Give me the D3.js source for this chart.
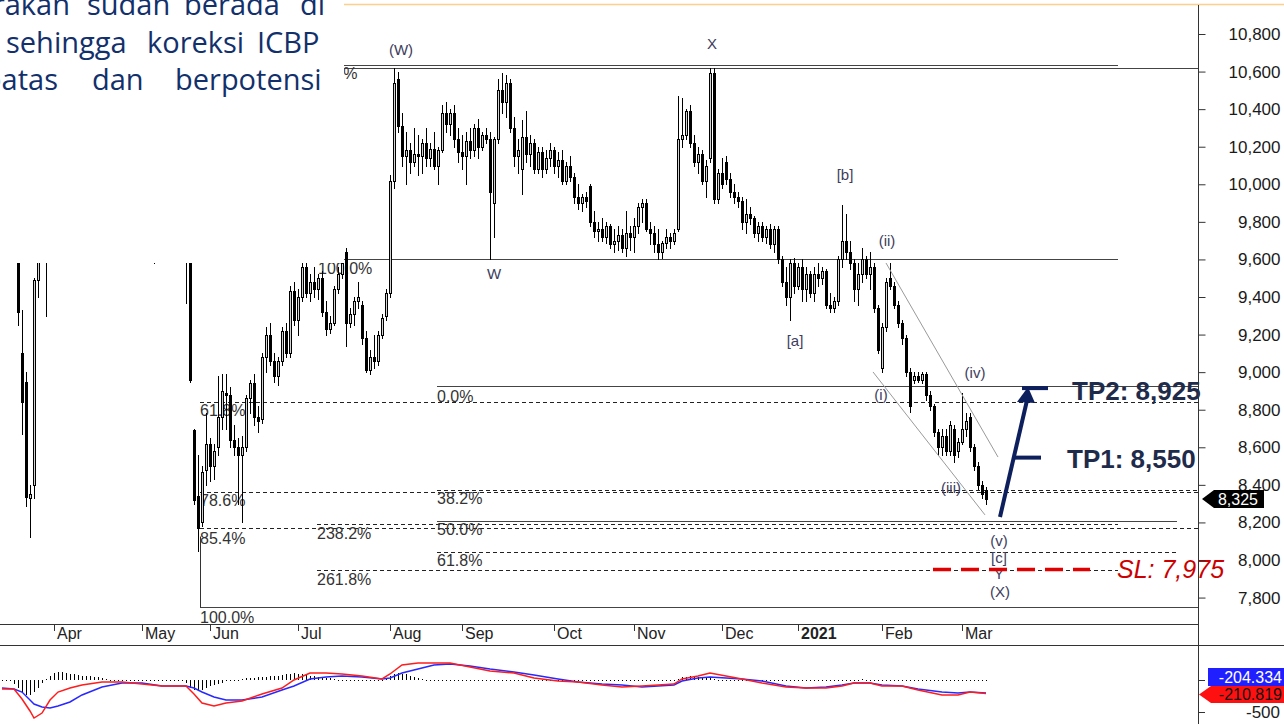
<!DOCTYPE html>
<html>
<head>
<meta charset="utf-8">
<script src="https://cdn.jsdelivr.net/npm/d3@7"></script>
<style>
  body { margin: 0; background: #fff; overflow: hidden; }
  svg { display: block; }
</style>
</head>
<body>
<div id="chart"></div>
<script>
// ---------- data ----------
const opens = [
  10000,9800,9720,9850,9900,9100,8950,8330,8400,9490,
  9800,10000,9900,10200,10350,10200,10050,10150,10000,9800,
  9850,10050,10100,10250,10150,10000,10100,10250,10300,10150,
  10200,10100,9950,10050,10000,9850,9950,9850,9750,9800,
  9950,10050,10100,9950,10000,9850,9650,9720,8690,8340,
  8200,8480,8620,8500,8600,8760,8890,8880,8640,8600,
  8560,8600,8860,8940,8760,8750,9080,9200,9060,8980,
  9060,9220,9100,9430,9280,9400,9560,9420,9480,9440,
  9500,9320,9230,9260,9440,9520,9640,9260,9310,9380,
  9360,9180,9010,9080,9060,9200,9300,9420,10020,10560,
  10310,10150,10180,10120,10160,10150,10220,10140,10190,10100,
  10180,10380,10320,10380,10240,10170,10150,10230,10180,10300,
  10200,10260,10240,9900,10240,10500,10440,10540,10300,10150,
  10080,10250,10160,10220,10080,10170,10080,10140,10180,10100,
  10130,10020,10100,10040,9930,9900,9930,9990,9800,9750,
  9760,9720,9780,9680,9700,9730,9660,9740,9720,9780,
  9880,9900,9760,9740,9680,9640,9690,9720,9700,9760,
  10240,10260,10390,10220,10120,10160,10020,10140,10590,9920,
  10060,10120,10030,9960,9930,9910,9800,9840,9820,9740,
  9780,9720,9760,9680,9760,9600,9480,9400,9580,9460,
  9560,9440,9520,9420,9520,9500,9540,9360,9340,9380,
  9600,9700,9640,9580,9440,9520,9600,9520,9560,9340,
  9020,9240,9500,9460,9360,9260,9180,9000,8960,8980,
  8960,8990,8880,8820,8680,8600,8660,8580,8700,8580,
  8630,8700,8760,8600,8500,8400,8370
];
const highs = [
  10200,9950,9900,10000,10000,9330,9000,8400,9500,9850,
  10100,10150,10250,10400,10450,10300,10200,10250,10050,9900,
  10100,10200,10300,10350,10200,10150,10300,10400,10350,10250,
  10300,10150,10100,10150,10050,10000,10050,9900,9850,10000,
  10100,10200,10150,10050,10100,9950,9900,9780,8700,8560,
  8500,8780,8650,8620,8980,8990,8990,8920,8720,8650,
  8660,8880,8960,8990,8820,9100,9240,9260,9100,9080,
  9240,9260,9460,9480,9440,9600,9580,9520,9560,9520,
  9540,9380,9300,9460,9560,9620,9660,9340,9400,9480,
  9380,9220,9120,9200,9220,9310,9440,10050,10620,10600,
  10380,10280,10220,10300,10260,10240,10300,10220,10280,10200,
  10420,10440,10400,10420,10300,10260,10280,10300,10320,10350,
  10280,10300,10280,10250,10560,10590,10580,10560,10360,10240,
  10340,10390,10260,10240,10200,10200,10180,10220,10200,10170,
  10180,10120,10150,10060,10000,9950,9960,10000,9860,9800,
  9820,9800,9790,9760,9780,9760,9860,9780,9820,9900,
  9920,9920,9800,9780,9760,9700,9760,9740,9760,10470,
  10460,10400,10420,10260,10200,10180,10130,10620,10620,10080,
  10140,10150,10060,10000,9960,9930,9920,9880,9830,9800,
  9800,9780,9790,9780,9780,9620,9560,9600,9610,9580,
  9600,9560,9540,9560,9580,9560,9550,9420,9400,9620,
  9890,9840,9700,9600,9580,9660,9620,9640,9580,9360,
  9260,9500,9580,9480,9380,9280,9200,9020,9000,9000,
  9000,9000,8900,8830,8700,8700,8700,8740,8720,8650,
  8890,8780,8780,8620,8520,8420,8390
];
const lows = [
  9700,9680,9660,9700,9250,8670,8290,8120,8330,9400,
  9700,9300,9850,10100,10150,10000,9900,9950,9750,9610,
  9800,9950,10050,10100,9950,9900,10050,10150,10100,10000,
  10050,9900,9850,9950,9800,9750,9800,9700,9580,9750,
  9850,9950,9900,9850,9800,9680,9370,8950,8300,8050,
  8180,8400,8420,8430,8560,8700,8700,8600,8560,8300,
  8200,8580,8780,8720,8680,8730,9000,9040,8950,8930,
  9040,9080,9080,9250,9200,9380,9400,9380,9400,9390,
  9300,9200,9210,9250,9420,9500,9140,9240,9250,9340,
  9150,9000,8990,9020,9040,9180,9280,9400,9980,10280,
  10100,10000,10060,10100,10050,10060,10100,10100,10080,10000,
  10170,10280,10260,10200,10120,10080,10000,10140,10150,10140,
  10180,10220,9600,9720,10220,10380,10360,10280,10100,10060,
  9950,10120,10100,10060,10060,10040,10060,10100,10060,10040,
  10000,10000,10020,9900,9870,9860,9880,9780,9720,9700,
  9700,9690,9660,9640,9650,9640,9620,9650,9640,9740,
  9800,9750,9680,9640,9600,9610,9660,9660,9680,9750,
  10200,10240,10200,10100,10060,10000,9930,10120,9900,9900,
  9980,10000,9930,9900,9880,9760,9740,9790,9720,9700,
  9700,9690,9660,9640,9580,9460,9360,9280,9420,9440,
  9380,9380,9400,9380,9460,9470,9340,9320,9320,9360,
  9560,9600,9550,9380,9360,9480,9500,9440,9320,9100,
  9000,9220,9440,9340,9240,9150,8980,8790,8940,8950,
  8940,8850,8800,8660,8560,8560,8560,8560,8520,8550,
  8620,8660,8580,8480,8380,8330,8300
];
const closes = [
  9800,9720,9850,9900,9320,8840,8335,8350,9490,9800,
  10000,9900,10200,10350,10200,10050,10150,10000,9800,9850,
  10050,10100,10250,10150,10000,10100,10250,10300,10150,10200,
  10100,9950,10050,10000,9850,9950,9850,9750,9800,9950,
  10050,10100,9950,10000,9850,9700,9750,8960,8320,8170,
  8470,8620,8500,8580,8760,8900,8880,8640,8600,8560,
  8600,8860,8940,8760,8740,9080,9200,9060,8980,9060,
  9220,9100,9430,9280,9400,9560,9420,9480,9440,9500,
  9320,9230,9260,9440,9520,9580,9260,9310,9380,9400,
  9180,9010,9080,9060,9200,9290,9420,10020,10540,10310,
  10150,10180,10120,10160,10150,10220,10140,10190,10100,10180,
  10380,10320,10380,10240,10170,10150,10230,10180,10300,10200,
  10260,10240,9960,10240,10500,10440,10540,10300,10150,10180,
  10250,10160,10220,10080,10170,10080,10140,10180,10100,10130,
  10020,10100,10040,9930,9900,9930,9910,9800,9750,9760,
  9720,9780,9680,9700,9730,9660,9740,9720,9780,9880,
  9900,9760,9740,9680,9640,9690,9720,9700,9740,10240,
  10260,10390,10220,10120,10160,10020,10100,10590,9920,10060,
  10000,10030,9960,9930,9910,9800,9840,9820,9740,9780,
  9720,9760,9680,9760,9600,9480,9400,9580,9460,9560,
  9440,9520,9420,9520,9500,9540,9360,9340,9380,9600,
  9700,9640,9580,9440,9520,9600,9520,9560,9340,9120,
  9240,9480,9460,9360,9260,9180,9000,8820,8980,8960,
  8990,8880,8820,8680,8600,8660,8580,8720,8560,8630,
  8700,8740,8600,8500,8400,8350,8325
];

const monthLabels = ["Apr","May","Jun","Jul","Aug","Sep","Oct","Nov","Dec","2021","Feb","Mar"];
const monthIdx    = [13, 35, 52, 74, 97, 115, 138, 158, 180, 199, 220, 240];

const priceTicks = [7800,8000,8200,8400,8600,8800,9000,9200,9400,9600,9800,10000,10200,10400,10600,10800];

// horizontal levels: price, from/to (candle index), dashed
const levelPrice  = [10635, 10620, 9600, 8925, 8843, 8375, 8362, 8210, 8192, 8168, 8044, 7947, 7750];
const levelFrom   = [79, 79, 0, 108.75, 49.5, 108.75, 49.5, 108.75, 78.75, 49.5, 108.75, 78.75, 49.5];
const levelTo     = [279, 299, 279, 299, 299, 299, 299, 293.75, 279, 299, 293.75, 279, 299];
const levelDashed = [0, 0, 0, 0, 1, 1, 1, 0, 1, 1, 1, 1, 0];

const fibText  = ["0.0%","100.0%","61.8%","78.6%","85.4%","238.2%","261.8%","100.0%","0.0%","38.2%","50.0%","61.8%"];
const fibIdx   = [79.75, 79, 49.5, 49.5, 49.5, 78.75, 78.75, 49.5, 108.75, 108.75, 108.75, 108.75];
const fibPrice = [10592, 9554, 8798, 8319, 8117, 8144, 7899, 7697, 8873, 8330, 8165, 8000];

const waveText  = ["(W)","X","W","[b]","[a]","(ii)","(iv)","(i)","(iii)","(v)","[c]","Y","(X)"];
const waveIdx   = [99.75, 177.5, 123, 210.75, 198.25, 221.25, 243.25, 219.75, 237.25, 249.25, 249.25, 249.25, 249.5];
const wavePrice = [10715, 10747, 9522, 10049, 9166, 9698, 8995, 8878, 8383, 8101, 8011, 7925, 7830];

// falling channel (index, price)
const channelUpper = [[221, 9581], [249, 8548]];
const channelLower = [[217.75, 9001], [245.75, 8240]];

// MACD panel, sampled along the lines
const macdIdx  = [0,3,5,7,8,10,12,14,17,20,25,30,35,40,46,48,50,53,56,60,65,70,73,77,81,85,90,95,97,100,104,108,112,117,122,128,133,139,144,150,155,160,168,170,174,177,181,185,190,196,201,206,210,213,217,220,225,229,235,239,242,246];
const macdRed  = [-141,-141,-297,-484,-594,-516,-313,-188,-125,-78,-31,-31,-63,-94,-94,-219,-359,-406,-359,-328,-219,-125,0,109,109,94,63,16,94,234,266,266,266,203,141,109,31,-16,-31,-78,-109,-94,-63,16,63,109,63,16,-47,-109,-125,-125,-94,-47,-47,-94,-94,-156,-234,-234,-188,-211];
const macdBlue = [-125,-141,-188,-313,-375,-422,-438,-406,-344,-234,-109,-47,-47,-94,-94,-125,-188,-266,-313,-313,-266,-156,-94,16,47,63,47,16,31,109,172,234,250,219,172,125,78,16,-31,-63,-78,-109,-78,-16,31,47,31,16,-16,-94,-125,-109,-78,-47,-47,-78,-94,-141,-188,-203,-188,-204];
const histVals = [
  0,0,0,-60,-120,-200,-240,-230,-180,-120,
  -40,20,60,110,130,120,110,100,90,80,70,60,55,45,40,30,20,
  10,5,5,0,-5,-5,0,5,5,0,0,-5,0,5,5,0,0,-5,-10,
  -40,-120,-160,-170,-150,-120,-100,-80,-60,-40,-20,
  5,10,15,20,25,30,35,40,45,50,55,60,70,80,90,100,
  110,100,90,80,70,60,50,40,30,25,20,15,10,5,5,0,-5,-10,-15,-20,-15,-10,-5,
  20,60,100,110,100,90,70,50,30,
  20,10,5,0,-5,-5,-10,-10,-5,0,5,5,0,-5,-10,-10,-5,0,5,10,
  5,0,-5,-10,-10,-5,-5,0,0,-5,-10,-10,-10,-5,-5,0,0,-5,-5,-10,
  -10,-5,0,5,5,0,-5,-5,-10,-5,0,0,5,5,0,-5,-5,0,0,5,
  5,0,5,10,
  20,40,50,60,55,50,45,40,30,20,10,5,
  0,-5,-10,-10,-15,-10,-10,-5,-5,-10,-10,-15,-10,-5,0,0,-5,-5,0,5,
  5,10,10,5,5,0,0,-5,-5,-5,0,5,10,15,20,15,10,5,0,-5,
  -5,-10,-15,-20,-20,-15,-10,-10,-5,-5,-10,-15,-15,-10,-5,0,0,5,5,10,
  10,5,0,-5,-5,-5
];

const lastPrice = 8325;
const tp1 = 8545, tp2 = 8915, slPrice = 7950;
const arrowFrom = [249.5, 8229], arrowTo = [256.5, 8905];

// ---------- setup ----------
const W = 1284, H = 724;
const axisX = 1198;
const svg = d3.select("#chart").append("svg")
    .attr("width", W)
    .attr("height", H)
    .style("font-family", "'Liberation Sans', Arial, sans-serif");

const N = closes.length;
const x = d3.scaleLinear().domain([0, N - 1]).range([2, 986]);
const y = d3.scaleLinear().domain([8000, 10800]).range([560, 34]);
const ym = d3.scaleLinear().domain([-500, 0]).range([712, 680]);
const cy = p => Math.round(y(p)) + 0.5;

// top orange border
svg.append("line")
    .attr("x1", 0).attr("x2", W).attr("y1", 4.5).attr("y2", 4.5)
    .attr("stroke", "#fcd08a").attr("stroke-width", 1.5);

// levels
svg.append("g").selectAll("line")
    .data(levelPrice)
    .join("line")
    .attr("x1", (d, i) => x(levelFrom[i]))
    .attr("x2", (d, i) => x(levelTo[i]))
    .attr("y1", d => cy(d))
    .attr("y2", d => cy(d))
    .attr("stroke", (d, i) => levelDashed[i] ? "#222" : "#444")
    .attr("stroke-width", 1)
    .attr("stroke-dasharray", (d, i) => levelDashed[i] ? "4,3" : null);

// vertical edge of the left fib box
svg.append("line")
    .attr("x1", Math.round(x(49.5)) + 0.5).attr("x2", Math.round(x(49.5)) + 0.5)
    .attr("y1", cy(8130)).attr("y2", cy(7750))
    .attr("stroke", "#333");

// fib labels (drawn under candles)
svg.append("g").selectAll("text")
    .data(fibText)
    .join("text")
    .attr("x", (d, i) => x(fibIdx[i]))
    .attr("y", (d, i) => y(fibPrice[i]))
    .attr("dy", "0.35em")
    .attr("font-size", 16)
    .attr("fill", "#333")
    .text(d => d);

// candles
const idx = d3.range(N);
const cg = svg.append("g").attr("shape-rendering", "crispEdges");
cg.selectAll("line")
    .data(idx)
    .join("line")
    .attr("x1", i => Math.round(x(i)) + 0.5)
    .attr("x2", i => Math.round(x(i)) + 0.5)
    .attr("y1", i => Math.round(y(highs[i])))
    .attr("y2", i => Math.round(y(lows[i])) + 1)
    .attr("stroke", "#000");

cg.selectAll("rect")
    .data(idx)
    .join("rect")
    .each(function(i) {
        const o = opens[i], c = closes[i];
        const xc = Math.round(x(i));
        const top = Math.round(y(Math.max(o, c)));
        const bot = Math.round(y(Math.min(o, c)));
        const r = d3.select(this);
        if (c >= o) {
            r.attr("x", xc - 0.5).attr("y", top + 0.5)
             .attr("width", 2).attr("height", Math.max(bot - top, 1))
             .attr("fill", "#d4d4d4").attr("stroke", "#000");
        } else {
            r.attr("x", xc - 1).attr("y", top)
             .attr("width", 3).attr("height", Math.max(bot - top, 1) + 1)
             .attr("fill", "#000");
        }
    });

// channel
[channelUpper, channelLower].forEach(seg => {
    svg.append("line")
        .attr("x1", x(seg[0][0])).attr("y1", y(seg[0][1]))
        .attr("x2", x(seg[1][0])).attr("y2", y(seg[1][1]))
        .attr("stroke", "#9a9a9a").attr("stroke-width", 1);
});

// wave labels
svg.append("g").selectAll("text")
    .data(waveText)
    .join("text")
    .attr("x", (d, i) => x(waveIdx[i]))
    .attr("y", (d, i) => y(wavePrice[i]))
    .attr("dy", "0.35em")
    .attr("text-anchor", "middle")
    .attr("font-size", 15)
    .attr("fill", "#3d3d5c")
    .text(d => d);

// ---------- text box over the chart ----------
svg.append("rect")
    .attr("x", 0).attr("y", 0).attr("width", 344).attr("height", 263)
    .attr("fill", "#fff");

const boxFont = "'Open Sans', 'Noto Sans', sans-serif";
const lines = [
    {y: 15, words: [["pergerakan", 70, "end"], ["sudah", 87], ["berada", 184], ["di", 300]]},
    {y: 53, words: [["sehingga", 6], ["koreksi", 147], ["ICBP", 257]]},
    {y: 90, words: [["terbatas", 58, "end"], ["dan", 92], ["berpotensi", 175]]}
];
lines.forEach(l => {
    l.words.forEach(w => {
        svg.append("text")
            .attr("x", w[1]).attr("y", l.y)
            .attr("text-anchor", w[2] || "start")
            .attr("font-family", boxFont)
            .attr("font-size", 29)
            .attr("fill", "#12306b")
            .text(w[0]);
    });
});

// ---------- annotations ----------
const navy = "#0d1f5c";
svg.append("line")
    .attr("x1", x(arrowFrom[0])).attr("y1", y(arrowFrom[1]))
    .attr("x2", x(arrowTo[0])).attr("y2", y(arrowTo[1]) + 6)
    .attr("stroke", navy).attr("stroke-width", 4);
{
    const tx = x(arrowTo[0]), ty = y(arrowTo[1]) - 3;
    svg.append("path")
        .attr("d", `M${tx},${ty} L${tx - 11},${ty + 15} L${tx + 7},${ty + 16} Z`)
        .attr("fill", navy);
}
svg.append("line")
    .attr("x1", x(255)).attr("x2", x(261.5))
    .attr("y1", y(tp2)).attr("y2", y(tp2))
    .attr("stroke", navy).attr("stroke-width", 4);
svg.append("line")
    .attr("x1", x(253.25)).attr("x2", x(259.75))
    .attr("y1", y(tp1)).attr("y2", y(tp1))
    .attr("stroke", navy).attr("stroke-width", 4);

svg.append("text")
    .attr("x", 1072).attr("y", 400)
    .attr("font-size", 26).attr("font-weight", "bold")
    .attr("fill", "#1e2b4a")
    .text("TP2: 8,925");
svg.append("text")
    .attr("x", 1067).attr("y", 468)
    .attr("font-size", 26).attr("font-weight", "bold")
    .attr("fill", "#1e2b4a")
    .text("TP1: 8,550");

svg.append("line")
    .attr("x1", x(232.75)).attr("x2", x(272))
    .attr("y1", y(slPrice)).attr("y2", y(slPrice))
    .attr("stroke", "#e00000").attr("stroke-width", 3.5)
    .attr("stroke-dasharray", "18,10");
svg.append("text")
    .attr("x", 1117).attr("y", 578)
    .attr("font-size", 25).attr("font-style", "italic")
    .attr("fill", "#cc0000")
    .text("SL: 7,975");

// ---------- price axis ----------
const yAxis = d3.axisRight(y)
    .tickValues(priceTicks)
    .tickSize(7)
    .tickFormat(d3.format(","));
const ag = svg.append("g")
    .attr("transform", `translate(${axisX + 0.5},0)`)
    .call(yAxis);
ag.select(".domain").remove();
ag.selectAll(".tick line").attr("stroke", "#333");
ag.selectAll(".tick text")
    .attr("x", 82)
    .attr("text-anchor", "end")
    .attr("font-size", 17)
    .attr("font-family", "'Liberation Sans', Arial, sans-serif")
    .attr("fill", "#1a1a1a");
svg.append("line")
    .attr("x1", axisX + 0.5).attr("x2", axisX + 0.5).attr("y1", 5).attr("y2", H)
    .attr("stroke", "#333");

// last price marker
{
    const py = y(lastPrice);
    svg.append("path")
        .attr("d", `M1202,${py} L1214,${py - 9} L1264,${py - 9} L1264,${py + 9} L1214,${py + 9} Z`)
        .attr("fill", "#000");
    svg.append("text")
        .attr("x", 1238).attr("y", py).attr("dy", "0.35em")
        .attr("text-anchor", "middle")
        .attr("font-size", 16).attr("fill", "#fff")
        .text(d3.format(",")(lastPrice));
}

// ---------- date axis ----------
svg.append("line").attr("x1", 0).attr("x2", axisX).attr("y1", 624.5).attr("y2", 624.5).attr("stroke", "#333");
svg.append("line").attr("x1", 0).attr("x2", W).attr("y1", 645.5).attr("y2", 645.5).attr("stroke", "#333");
const dg = svg.append("g");
dg.selectAll("line")
    .data(monthIdx)
    .join("line")
    .attr("x1", d => Math.round(x(d)) + 0.5)
    .attr("x2", d => Math.round(x(d)) + 0.5)
    .attr("y1", 625).attr("y2", 631)
    .attr("stroke", "#333");
dg.selectAll("text")
    .data(monthLabels)
    .join("text")
    .attr("x", (d, i) => x(monthIdx[i]) + 3)
    .attr("y", 639)
    .attr("font-size", 16)
    .attr("font-weight", d => d === "2021" ? "bold" : null)
    .attr("fill", "#222")
    .text(d => d);

// ---------- MACD ----------
const mg = svg.append("g").attr("shape-rendering", "crispEdges");
mg.selectAll("line")
    .data(histVals)
    .join("line")
    .attr("x1", (d, i) => Math.round(x(i)) + 0.5)
    .attr("x2", (d, i) => Math.round(x(i)) + 0.5)
    .attr("y1", 680)
    .attr("y2", d => {
        const h = ym(d) - 680;
        return 680 + (Math.abs(h) < 1 ? 1 : h);
    })
    .attr("stroke", "#000");

const mline = vals => d3.line()
    .x((d, i) => x(macdIdx[i]))
    .y(d => ym(d))(vals);
svg.append("path").attr("d", mline(macdBlue))
    .attr("fill", "none").attr("stroke", "#2828ff").attr("stroke-width", 1.5);
svg.append("path").attr("d", mline(macdRed))
    .attr("fill", "none").attr("stroke", "#ff1c1c").attr("stroke-width", 1.5);

[0, -500].forEach(v => {
    svg.append("line")
        .attr("x1", axisX).attr("x2", axisX + 7)
        .attr("y1", Math.round(ym(v)) + 0.5).attr("y2", Math.round(ym(v)) + 0.5)
        .attr("stroke", "#333");
});
svg.append("text")
    .attr("x", 1280).attr("y", ym(-500)).attr("dy", "0.35em")
    .attr("text-anchor", "end").attr("font-size", 17).attr("fill", "#222")
    .text("-500");

svg.append("rect")
    .attr("x", 1208).attr("y", 668).attr("width", 76).attr("height", 18)
    .attr("fill", "#1f1fff");
svg.append("text")
    .attr("x", 1282).attr("y", 677).attr("dy", "0.35em")
    .attr("text-anchor", "end").attr("font-size", 16).attr("fill", "#fff")
    .text("-204.334");
svg.append("path")
    .attr("d", "M1199,694.5 L1211,686 L1284,686 L1284,703 L1211,703 Z")
    .attr("fill", "#ff1010");
svg.append("text")
    .attr("x", 1282).attr("y", 694.5).attr("dy", "0.35em")
    .attr("text-anchor", "end").attr("font-size", 16).attr("fill", "#111")
    .text("-210.819");
</script>
</body>
</html>
